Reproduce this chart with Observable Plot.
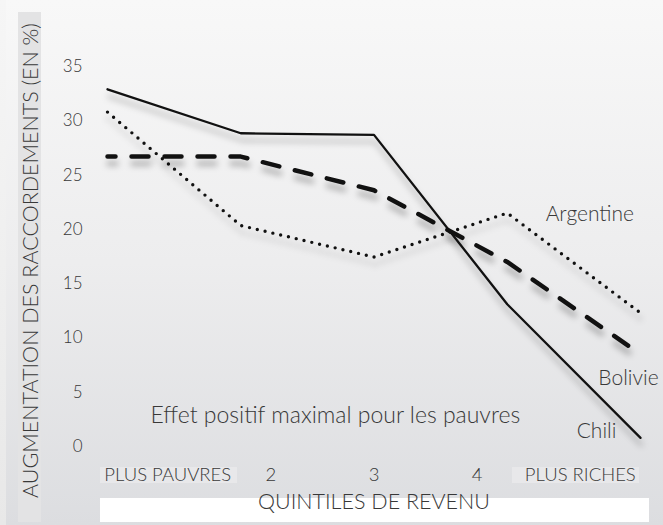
<!DOCTYPE html>
<html>
<head>
<meta charset="utf-8">
<script src="https://cdn.jsdelivr.net/npm/d3@7"></script>
<script src="https://cdn.jsdelivr.net/npm/@observablehq/plot@0.6"></script>
<style>
  html, body { margin: 0; padding: 0; background: #f4f4f4; }
  #wrap { position: relative; width: 663px; height: 525px; overflow: hidden;
    background: linear-gradient(#f8f8f8 0%, #ededee 50%, #dcdde0 100%); }
  #edge { position: absolute; left: 0; top: 0; width: 6px; height: 525px;
    background: linear-gradient(#f6f6f6, #e8e8e8); }
  #strip { position: absolute; left: 18px; top: 12px; width: 23px; height: 510px; background: #e3e3e4; }
  .lbox { position: absolute; top: 467px; height: 16px; background: #e8e8ea; }
  #xbox { position: absolute; left: 100px; top: 498px; width: 549px; height: 24px; background: #ffffff; }
  #chart { position: absolute; left: 0; top: 0; }
  #chart svg text { fill: #383838; }
  #chart svg g[aria-label="line"] { filter: drop-shadow(1px 7px 3px rgba(0,0,0,0.3)); }
</style>
</head>
<body>
<div id="wrap">
  <div id="edge"></div>
  <div id="strip"></div>
  <div class="lbox" style="left:100px;width:137px"></div>
  <div class="lbox" style="left:512px;width:127px"></div>
  <div id="xbox"></div>
  <div id="chart"></div>
</div>
<script>
// ---- data ----
const quintiles = ["PLUS PAUVRES", "2", "3", "4", "PLUS RICHES"];
const quintileIndex = [1, 2, 3, 4, 5];
const chili = [32.9, 28.85, 28.7, 13.1, 0.8];
const bolivie = [26.7, 26.7, 23.6, 17.0, 8.5];
const argentine = [30.8, 20.35, 17.45, 21.5, 12.3];
const yTicks = [0, 5, 10, 15, 20, 25, 30, 35];
const seriesLabelPos = [
  {name: "Argentine", x: 4.62, y: 21.4},
  {name: "Bolivie", x: 4.91, y: 6.3},
  {name: "Chili", x: 4.67, y: 1.4}
];
const yTitle = "AUGMENTATION DES RACCORDEMENTS (EN %)";
const xTitle = "QUINTILES DE REVENU";
const note = [{x: 2.71, y: 2.8, text: "Effet positif maximal pour les pauvres"}];

// ---- tables ----
const rows = (vals, name) => vals.map((v, i) => ({q: quintileIndex[i], v, name}));
const chiliRows = rows(chili, "Chili");
const bolivieRows = rows(bolivie, "Bolivie");
const argentineRows = rows(argentine, "Argentine");

// tick labels are spread evenly around the centre quintile, a bit narrower than the data
const spread = 0.774;
const labelTicks = quintileIndex.map(i => 3 + (i - 3) * spread);
const labelFor = d => quintiles[Math.round((d - 3) / spread) + 2];

const chart = Plot.plot({
  width: 663,
  height: 525,
  marginLeft: 107,
  marginRight: 23,
  marginTop: 66,
  marginBottom: 79,
  style: {background: "transparent", fontFamily: "Lato, 'Open Sans', sans-serif", fontWeight: 300, overflow: "visible"},
  x: {domain: [1, 5], axis: null},
  y: {domain: [0, 35], axis: null},
  marks: [
    Plot.axisY({ticks: yTicks, tickSize: 0, tickPadding: 25, fontSize: 17, label: null}),
    Plot.axisX({ticks: labelTicks, tickFormat: labelFor, tickSize: 0, tickPadding: 21, fontSize: 18.5, label: null}),
    Plot.text([yTitle], {frameAnchor: "left", textAnchor: "middle", rotate: -90, dx: -76, dy: 4, fontSize: 21.5}),
    Plot.text([xTitle], {frameAnchor: "bottom", dy: 62, fontSize: 21.5}),
    Plot.line(argentineRows, {x: "q", y: "v", stroke: "#111", strokeWidth: 3.4, strokeDasharray: "0,8", strokeLinecap: "round"}),
    Plot.line(bolivieRows, {x: "q", y: "v", stroke: "#111", strokeWidth: 4.5, strokeDasharray: "17,16", strokeDashoffset: 9}),
    Plot.line(chiliRows, {x: "q", y: "v", stroke: "#111", strokeWidth: 2.3}),
    Plot.text(seriesLabelPos, {x: "x", y: "y", text: "name", fontSize: 21}),
    Plot.text(note, {x: "x", y: "y", text: "text", fontSize: 23})
  ]
});
document.getElementById("chart").appendChild(chart);
</script>
</body>
</html>
